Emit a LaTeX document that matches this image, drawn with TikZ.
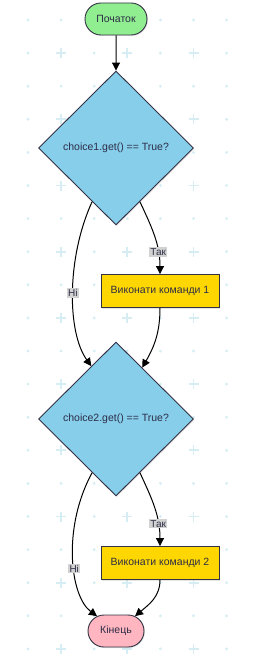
\documentclass[tikz,border=0pt]{standalone}
\usepackage{fontspec}
\setmainfont{Liberation Sans}
\usepackage{tikz}
\usetikzlibrary{shapes.geometric, shapes.misc, arrows.meta, positioning, shadows}

\definecolor{gridblue}{RGB}{214,237,243}
\definecolor{edgegray}{RGB}{50,50,68}
\definecolor{txtgray}{RGB}{45,45,70}
\definecolor{startgreen}{RGB}{144,238,144}
\definecolor{endpink}{RGB}{255,182,193}
\definecolor{decblue}{RGB}{135,206,235}
\definecolor{actgold}{RGB}{255,215,0}

\tikzstyle{startstop} = [rounded rectangle, minimum width=66pt, minimum height=32pt, inner sep=2pt, text centered, draw=edgegray, line width=0.9pt, text=txtgray, font=\fontsize{10.5}{12}\selectfont, drop shadow={shadow xshift=1pt, shadow yshift=-1pt, opacity=0.2}]
\tikzstyle{decision} = [diamond, minimum width=155pt, minimum height=154pt, inner sep=0pt, text centered, draw=edgegray, line width=0.9pt, fill=decblue, text=txtgray, font=\fontsize{10.5}{12}\selectfont, drop shadow={shadow xshift=1pt, shadow yshift=-1pt, opacity=0.2}]
\tikzstyle{process} = [rectangle, minimum width=118pt, minimum height=33pt, text centered, draw=edgegray, line width=0.9pt, fill=actgold, text=txtgray, font=\fontsize{10.5}{12}\selectfont, drop shadow={shadow xshift=1pt, shadow yshift=-1pt, opacity=0.2}]
\tikzstyle{answer} = [fill=gray!35, inner sep=1.2pt, text=txtgray, font=\fontsize{10}{11}\selectfont]
\tikzstyle{arrow} = [line width=1pt, ->, >={Triangle[length=8pt, width=8pt]}]

\begin{document}
\begin{tikzpicture}[x=1pt, y=-1pt, node distance=129pt]
\useasboundingbox (0,0) rectangle (254,658);

% Background grid
\begin{scope}
\clip (0,0) rectangle (254,658);
\foreach \i in {0,2,4,6}
  \foreach \j in {0,...,19}
    \fill[gridblue] (28+33.1*\i, 20+33.1*\j) circle (1.6pt);
\foreach \i in {-1,1,3,5,7}
  \foreach \j in {0,2,...,18}
    \fill[gridblue] (28+33.1*\i, 20+33.1*\j) circle (1.6pt);
\foreach \i in {-1,1,3,5,7}
  \foreach \j in {1,3,...,19}
    \draw[gridblue, line width=1.8pt] (23+33.1*\i, 20+33.1*\j) -- ++(10,0)
      (28+33.1*\i, 15+33.1*\j) -- ++(0,10);
\end{scope}

% Nodes
\node (start) [startstop, fill=startgreen] at (116,19) {Початок};
\node (dec1) [decision, below of=start] {choice1.get() == True?};
\node (act1) [process, below of=dec1, xshift=44pt, yshift=-14pt] {Виконати команди 1};
\node (dec2) [decision, below of=act1, xshift=-44pt, yshift=1pt] {choice2.get() == True?};
\node (act2) [process, below of=dec2, xshift=44pt, yshift=-15pt] {Виконати команди 2};
\node (stop) [startstop, fill=endpink, minimum width=60pt, below of=act2, xshift=-44pt, yshift=61pt] {Кінець};

% Arrows
\draw [arrow] (start) -- (dec1);
\draw [arrow] (dec1.294) to[out=-65, in=90] node[answer, pos=0.72] {Так} (act1.north);
\draw [arrow] (dec1.246) .. controls +(-26,57) and +(-24,-33) .. node[answer] {Ні} (dec2.115);
\draw [arrow] (act1.south) to[out=-90, in=60] (dec2.63);
\draw [arrow] (dec2.294) to[out=-65, in=90] node[answer, pos=0.72] {Так} (act2.north);
\draw [arrow] (dec2.246) .. controls +(-30,55) and +(-27,-20) .. node[answer, pos=0.57] {Ні} (stop.142);
\draw [arrow] (act2.south) to[out=-90, in=40] (stop.38);

\end{tikzpicture}
\end{document}
